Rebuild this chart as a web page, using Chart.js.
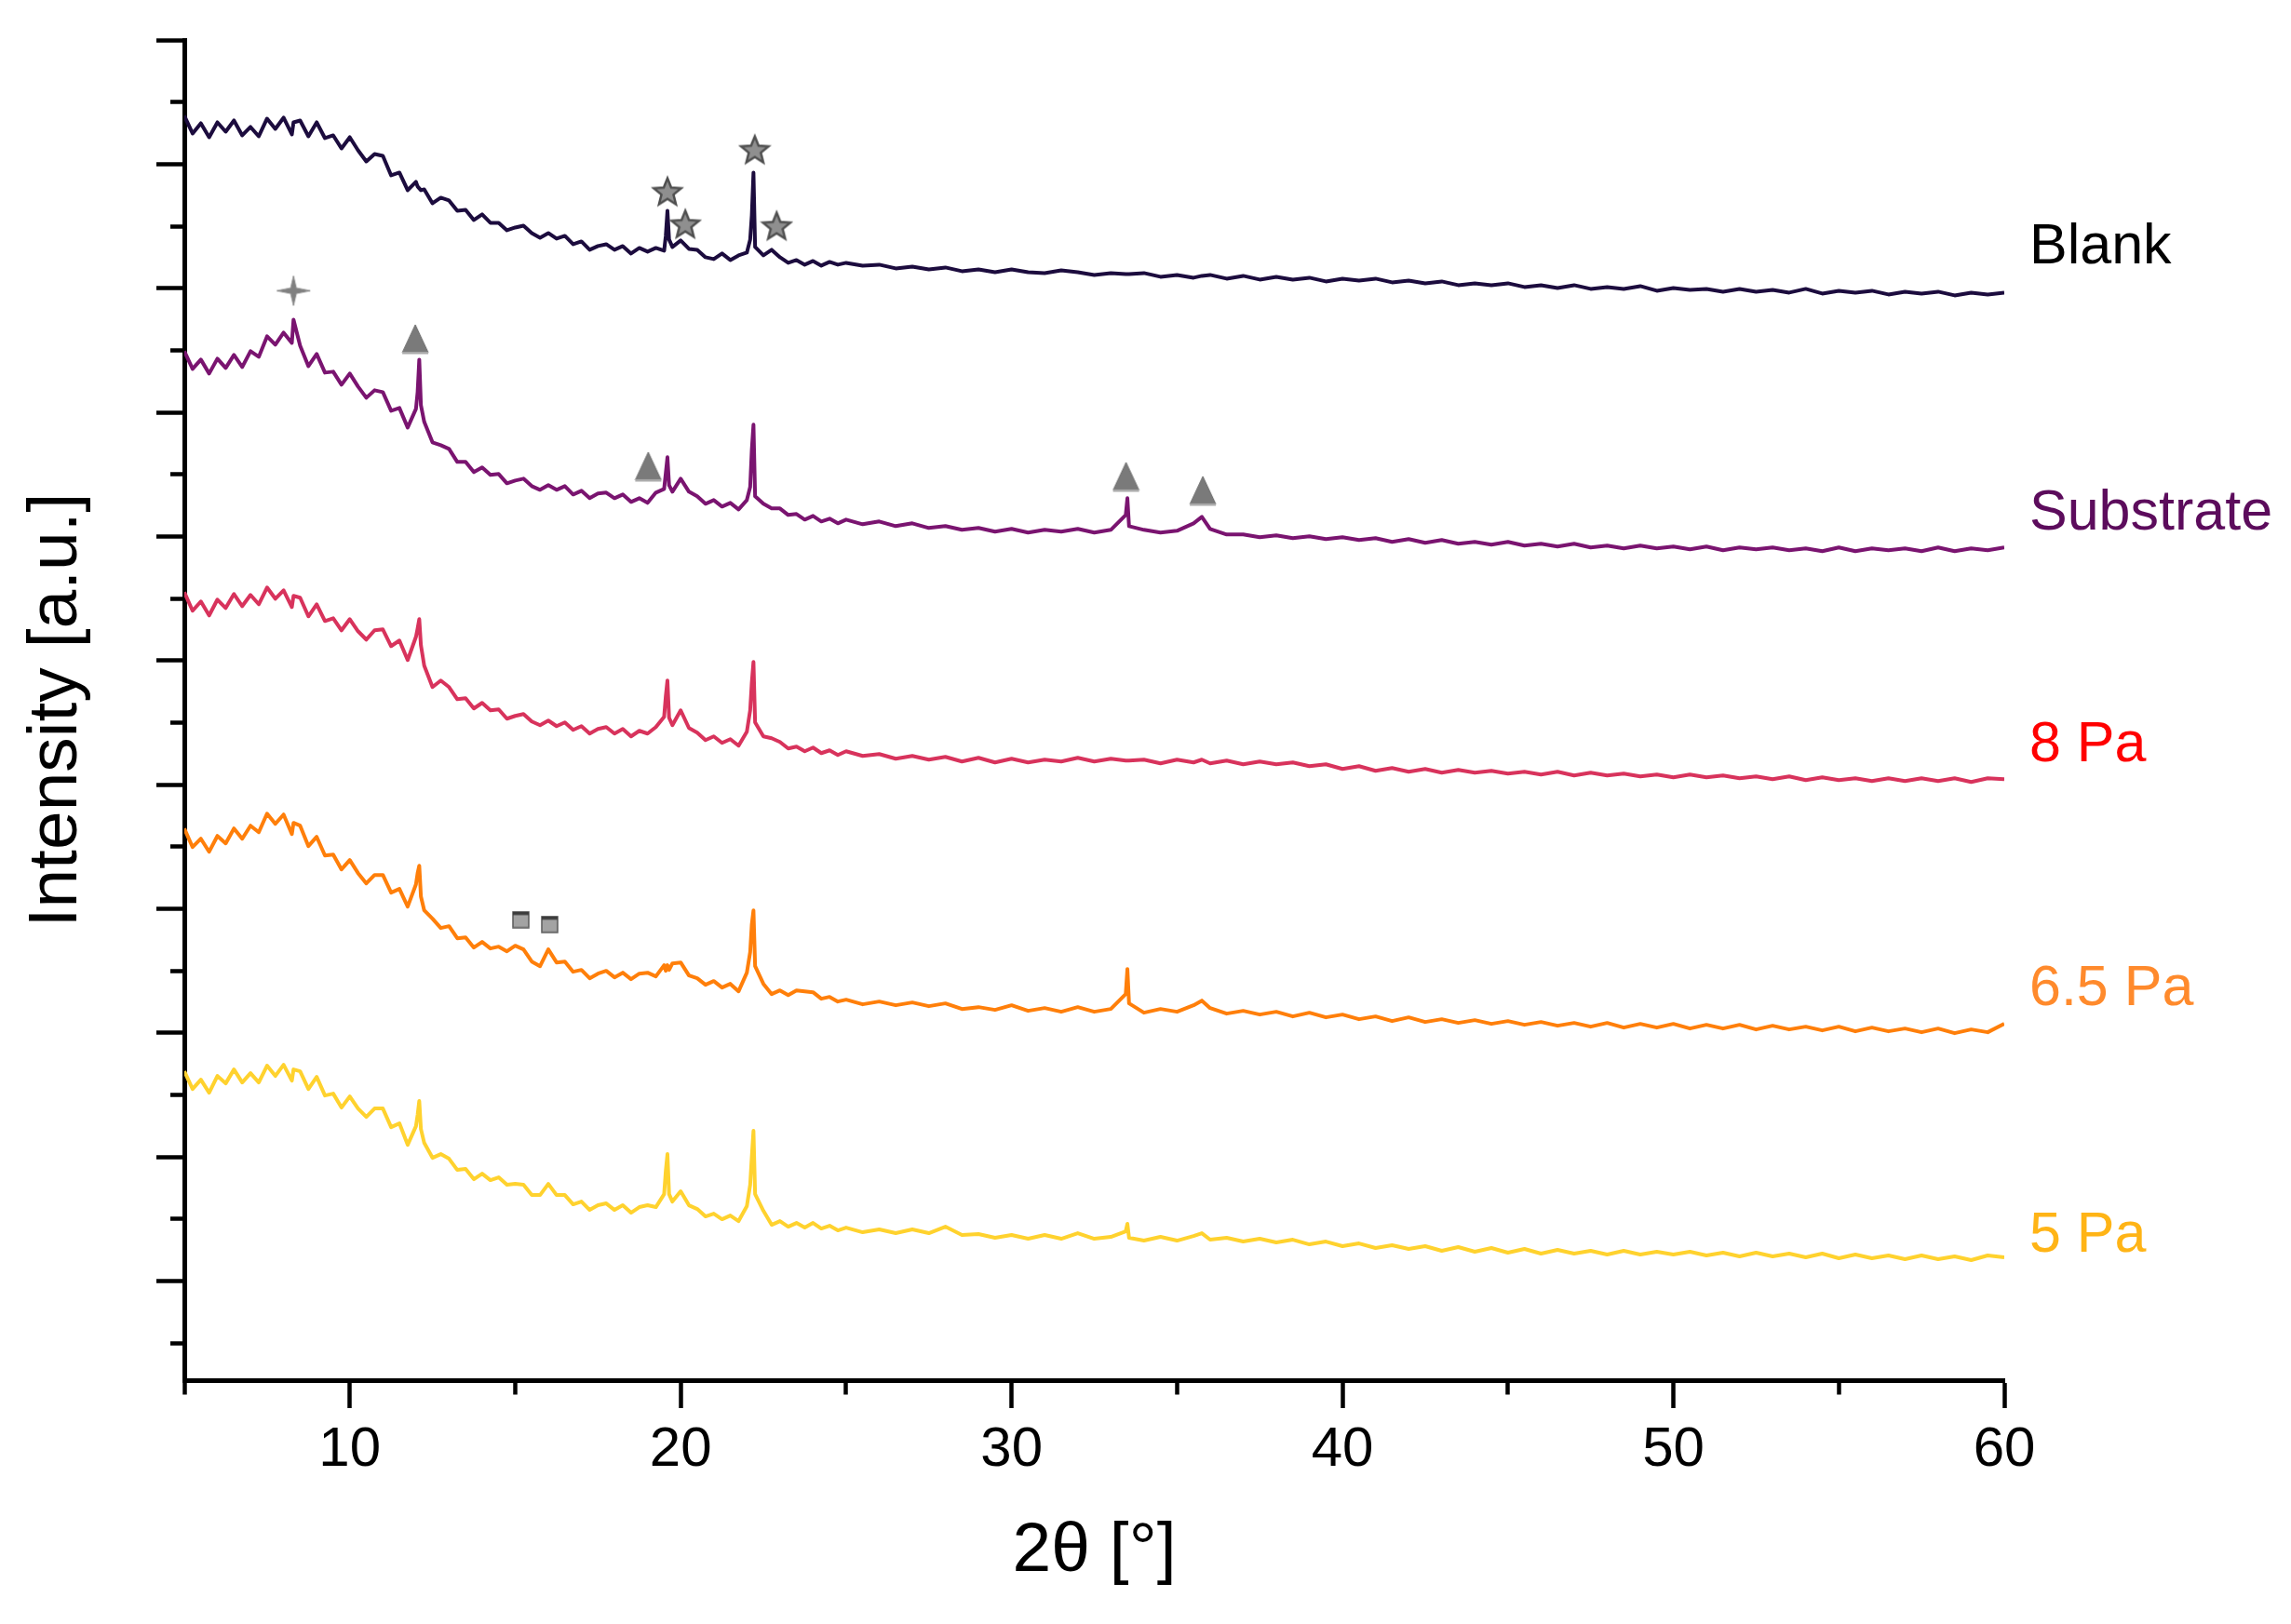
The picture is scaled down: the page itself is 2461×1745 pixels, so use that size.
<!DOCTYPE html>
<html>
<head>
<meta charset="utf-8">
<script src="https://cdn.jsdelivr.net/npm/chart.js@4.4.1/dist/chart.umd.min.js"></script>
<style>
  html, body { margin: 0; padding: 0; background: #ffffff; overflow: hidden; }
  #wrap { width: 2461px; height: 1745px; }
  canvas { display: block; }
</style>
</head>
<body>
<div id="wrap"><canvas id="c" width="2461" height="1745"></canvas></div>
<script>
// ---------------- DATA ----------------
// 2θ sampling grid (degrees)
const twoTheta = [
  5,5.25,5.5,5.75, 6,6.25,6.5,6.75, 7,7.25,7.5,7.75, 8,8.25,8.3,8.5,8.75,
  9,9.25,9.5,9.75, 10,10.25,10.5,10.75, 11,11.25,11.5,11.75,
  12,12.05,12.1,12.15,12.25,12.5,12.75,
  13,13.25,13.5,13.75, 14,14.25,14.5,14.75, 15,15.25,15.5,15.75,
  16,16.25,16.5,16.75, 17,17.25,17.5,17.75, 18,18.25,18.5,18.75,
  19,19.25,19.5,19.55,19.6,19.65,19.75,
  20,20.25,20.5,20.75, 21,21.25,21.5,21.75,
  22,22.1,22.15,22.2,22.25,22.5,22.75,
  23,23.25,23.5,23.75, 24,24.25,24.5,24.75,
  25,25.5, 26,26.5, 27,27.5, 28,28.5, 29,29.5, 30,30.5, 31,31.5, 32,32.5,
  33,33.45,33.5,33.55, 34,34.5, 35,35.5,35.75,
  36,36.5, 37,37.5, 38,38.5, 39,39.5, 40,40.5, 41,41.5, 42,42.5, 43,43.5,
  44,44.5, 45,45.5, 46,46.5, 47,47.5, 48,48.5, 49,49.5, 50,50.5, 51,51.5,
  52,52.5, 53,53.5, 54,54.5, 55,55.5, 56,56.5, 57,57.5, 58,58.5, 59,59.5,
  60
];

// Intensities (offset-stacked, arbitrary units)
const blank = [
  1359,1340,1351,1336, 1352,1342,1354,1338, 1347,1337,1356,1345, 1357,1339,1352,1354,1337,
  1352,1335,1338,1324, 1336,1322,1310,1318, 1316,1295,1298,1279,
  1288,1283,1281,1279,1280,1265,1271,
  1268,1257,1258,1247, 1253,1244,1244,1236, 1239,1241,1233,1228,
  1233,1227,1230,1221, 1224,1215,1219,1221, 1215,1219,1211,1217,
  1213,1217,1214,1230,1257,1226,1218,
  1225,1216,1215,1207, 1205,1211,1204,1209,
  1212,1226,1252,1298,1218,1209,1215,
  1207,1201,1204,1199, 1203,1198,1202,1199,
  1201,1198, 1199,1195, 1197,1194, 1196,1192, 1194,1191, 1194,1191, 1190,1193, 1191,1188,
  1190,1189,1189,1189, 1190,1186, 1188,1185,1187,
  1188,1184, 1187,1183, 1186,1183, 1185,1181, 1184,1182, 1184,1180, 1182,1179, 1181,1177,
  1179,1177, 1179,1175, 1177,1174, 1177,1173, 1175,1173, 1176,1171, 1174,1172, 1173,1170,
  1173,1170, 1172,1169, 1173,1168, 1171,1169, 1171,1167, 1170,1168, 1170,1166, 1169,1167,
  1169
];

const substrate = [
  1106,1087,1097,1082, 1098,1088,1102,1089, 1106,1100,1122,1113, 1126,1115,1140,1112,1090,
  1103,1083,1084,1070, 1082,1068,1056,1064, 1062,1042,1045,1024,
  1044,1062,1097,1048,1030,1008,1005,
  1001,987,987,976, 981,973,974,964, 967,969,961,957,
  962,957,961,952, 956,948,953,954, 948,952,944,948,
  943,954,958,975,992,962,955,
  969,955,950,942, 946,939,943,936,
  946,960,1000,1027,950,942,937,
  937,930,931,925, 929,923,926,921,
  925,920, 923,918, 921,916, 918,914, 916,912, 915,911, 914,912, 915,911,
  914,930,948,918, 914,911, 913,921,928,
  915,909, 909,906, 908,905, 907,904, 906,903, 905,901, 904,900, 903,899,
  901,898, 901,897, 899,896, 899,895, 897,894, 897,894, 896,893, 896,892,
  895,893, 895,892, 894,891, 895,891, 894,892, 894,891, 895,891, 894,892,
  895
];

const pa8 = [
  847,827,837,822, 839,830,845,832, 844,834,852,840, 849,831,843,841,821,
  834,816,819,806, 818,805,796,806, 807,789,795,774,
  799,808,818,790,768,745,752,
  745,732,733,722, 728,720,721,711, 714,716,708,704,
  709,703,707,699, 703,695,700,702, 695,700,692,698,
  695,702,713,735,752,712,704,
  720,701,696,688, 692,685,689,682,
  697,720,750,772,707,692,690,
  686,679,681,676, 680,674,677,672,
  676,671, 673,668, 671,667, 670,665, 669,664, 668,664, 667,665, 669,665,
  668,666,666,666, 667,663, 667,664,667,
  663,666, 662,665, 662,664, 660,662, 657,660, 655,658, 654,657, 653,656,
  653,655, 652,654, 651,654, 650,653, 650,652, 649,651, 648,651, 648,650,
  647,649, 646,649, 645,648, 645,647, 644,647, 644,647, 644,647, 643,647,
  646
];

const pa65 = [
  593,573,582,568, 585,577,593,582, 596,589,609,598, 608,587,599,596,574,
  584,564,565,549, 559,545,534,543, 543,524,528,509,
  533,545,553,520,505,496,486,
  488,475,476,465, 471,464,466,461, 467,463,450,445,
  463,449,450,439, 441,432,437,440, 433,438,431,437,
  438,434,446,440,446,441,448,
  449,435,432,425, 429,422,426,418,
  438,460,490,505,445,426,415,
  419,414,419,418, 417,410,412,407,
  409,404, 407,403, 406,402, 405,399, 401,398, 403,397, 400,396, 401,396,
  399,415,442,405, 395,399, 396,403,408,
  400,394, 397,393, 396,391, 395,390, 393,388, 391,386, 390,385, 388,384,
  387,383, 386,382, 385,381, 384,380, 384,379, 383,379, 383,378, 382,378,
  382,377, 381,377, 380,376, 380,375, 379,375, 378,374, 378,373, 377,374,
  383
];

const pa5 = [
  332,313,323,309, 327,319,334,320, 330,320,338,327, 339,322,334,332,313,
  326,306,308,293, 305,292,283,292, 292,272,276,253,
  273,285,300,270,255,239,243,
  238,226,227,216, 222,215,218,210, 211,210,199,199,
  211,199,199,189, 192,183,188,190, 183,188,180,186,
  188,186,200,225,243,200,192,
  203,188,184,176, 179,173,177,171,
  187,210,240,268,200,182,167,
  171,165,169,164, 169,163,166,161,
  164,159, 162,158, 162,158, 165,156, 157,153, 156,152, 156,152, 158,152,
  154,160,168,153, 150,154, 150,155,158,
  151,153, 149,152, 148,151, 146,149, 144,147, 142,145, 141,144, 139,143,
  138,142, 137,141, 136,140, 136,139, 135,139, 135,138, 135,138, 134,137,
  133,137, 133,136, 132,136, 131,135, 131,134, 130,134, 130,133, 129,134,
  132
];

// Series names, colours
const seriesNames  = ['Blank', 'Substrate', '8 Pa', '6.5 Pa', '5 Pa'];
const seriesValues = [blank, substrate, pa8, pa65, pa5];
const lineColors   = ['#1c0c3e', '#7a1470', '#d8335c', '#ff7f0a', '#ffd22e'];

// Right-hand series labels (position on the intensity scale)
const labelNames  = ['5 Pa', '6.5 Pa', '8 Pa', 'Substrate', 'Blank'];
const labelValues = [155, 420, 682, 931, 1217];
const labelColors = ['#ffb416', '#ff8a2c', '#ff0000', '#5c0c5c', '#000000'];

// Phase markers
const starTheta   = [19.6, 20.14, 22.24, 22.9];
const starValue   = [1278, 1243, 1323, 1241];
const crossTheta  = [8.3];
const crossValue  = [1171];
const triTheta    = [11.98, 19.02, 33.46, 35.78];
const triValue    = [1119, 982, 971, 956];
const squareTheta = [15.17, 16.04];
const squareValue = [495, 490];

// Axis ticks
const xTickStep = 5;
const xMin = 5, xMax = 60;
const yMin = 0, yMax = 1440.5;
const yTicks = [1440.5, 1373.8, 1307.1, 1240.4, 1173.7, 1107.0, 1040.3, 973.6, 906.9, 840.2,
                773.5, 706.8, 640.1, 573.4, 506.7, 440.0, 373.3, 306.6, 239.9, 173.2, 106.5, 39.8];

// ---------------- MARKER GLYPHS ----------------
function makeCanvas(w, h) { const c = document.createElement('canvas'); c.width = w; c.height = h; return c; }
function makeStar() {
  const c = makeCanvas(36, 36), g = c.getContext('2d');
  g.beginPath();
  for (let k = 0; k < 10; k++) {
    const r = k % 2 ? 6.8 : 15.5;
    const a = -Math.PI / 2 + k * Math.PI / 5;
    const px = 18 + r * Math.cos(a), py = 19.5 + r * Math.sin(a);
    if (k) g.lineTo(px, py); else g.moveTo(px, py);
  }
  g.closePath();
  g.fillStyle = '#8f8f8f'; g.fill();
  g.lineWidth = 2.5; g.strokeStyle = '#4f4f4f'; g.stroke();
  return c;
}
function makeSparkle() {
  const c = makeCanvas(38, 34), g = c.getContext('2d');
  const cx = 19, cy = 17;
  const pts = [[0,-16],[3,-3],[18,0],[3,3],[0,16],[-3,3],[-18,0],[-3,-3]];
  g.beginPath();
  pts.forEach((p, i) => { if (i) g.lineTo(cx + p[0], cy + p[1]); else g.moveTo(cx + p[0], cy + p[1]); });
  g.closePath();
  g.fillStyle = '#808080'; g.fill();
  g.lineWidth = 1; g.strokeStyle = '#8c8c8c'; g.stroke();
  return c;
}
function makeTriangle() {
  const c = makeCanvas(30, 33), g = c.getContext('2d');
  g.beginPath(); g.moveTo(15, 1); g.lineTo(29, 31); g.lineTo(1, 31); g.closePath();
  g.fillStyle = '#7a7a7a'; g.fill();
  g.lineWidth = 1; g.strokeStyle = '#6e6e6e'; g.stroke();
  g.fillStyle = '#a8a8a8'; g.fillRect(1, 30, 28, 2.5);
  return c;
}
function makeSquare() {
  const c = makeCanvas(19, 19), g = c.getContext('2d');
  g.fillStyle = '#a3a3a3'; g.fillRect(1, 1, 17, 17);
  g.lineWidth = 1.5; g.strokeStyle = '#5a5a5a'; g.strokeRect(1, 1, 17, 17);
  g.fillStyle = '#3c3c3c'; g.fillRect(1, 1, 17, 3.5);
  return c;
}

// ---------------- CHART ----------------
const FONT = "'Liberation Sans', Arial, Helvetica, sans-serif";
const pairs = (xs, ys) => xs.map((x, i) => ({ x: x, y: ys[i] }));

const markerSets = [
  { data: pairs(starTheta, starValue), pointStyle: makeStar() },
  { data: pairs(crossTheta, crossValue), pointStyle: makeSparkle() },
  { data: pairs(triTheta, triValue), pointStyle: makeTriangle() },
  { data: pairs(squareTheta, squareValue), pointStyle: makeSquare() }
].map(m => ({
  type: 'line', data: m.data, showLine: false, order: 0,
  pointStyle: m.pointStyle, pointRadius: 12, pointHoverRadius: 12,
  borderColor: '#808080', backgroundColor: '#808080'
}));

const lineSets = seriesValues.map((vals, i) => ({
  type: 'line', label: seriesNames[i], data: pairs(twoTheta, vals), order: 1,
  borderColor: lineColors[i], borderWidth: 4, pointRadius: 0, tension: 0, fill: false,
  borderJoinStyle: 'round'
}));

new Chart(document.getElementById('c'), {
  type: 'line',
  data: { datasets: [...markerSets, ...lineSets] },
  options: {
    responsive: false, animation: false, devicePixelRatio: 1,
    layout: { padding: { top: 43, left: 0, right: 0, bottom: 0 } },
    plugins: { legend: { display: false }, tooltip: { enabled: false } },
    scales: {
      x: {
        type: 'linear', position: 'bottom', min: xMin, max: xMax,
        border: { display: true, color: '#000', width: 5 },
        grid: {
          drawOnChartArea: false, drawTicks: true, tickLength: 30, tickWidth: 4.5, tickColor: '#000',
          tickBorderDash: ctx => (ctx.tick && ctx.tick.value % 10 !== 0) ? [12.5, 100] : []
        },
        ticks: {
          stepSize: xTickStep, autoSkip: false, maxRotation: 0, padding: 9, color: '#000',
          font: { family: FONT, size: 60 },
          callback: v => (v % 10 === 0 ? String(v) : '')
        },
        title: { display: true, text: '2θ [°]', color: '#000', font: { family: FONT, size: 75 }, padding: { top: 0, bottom: 33 } },
        afterFit: s => { s.height = 262; s.paddingLeft = 0; s.paddingRight = 0; }
      },
      y: {
        type: 'linear', position: 'left', min: yMin, max: yMax,
        afterBuildTicks: s => { s.ticks = yTicks.map(v => ({ value: v })); },
        border: { display: true, color: '#000', width: 5 },
        grid: {
          drawOnChartArea: false, drawTicks: true, tickLength: 30, tickWidth: 4.5, tickColor: '#000',
          tickBorderDash: ctx => (ctx.index % 2 === 1) ? [0, 15, 13, 100] : []
        },
        ticks: { autoSkip: false, padding: 0, font: { family: FONT, size: 8 }, callback: () => '' },
        title: { display: true, text: 'Intensity [a.u.]', color: '#000', font: { family: FONT, size: 75 }, padding: { top: 16, bottom: 0 } },
        afterFit: s => { s.width = 198; s.paddingTop = 0; s.paddingBottom = 0; }
      },
      y2: {
        type: 'linear', position: 'right', min: yMin, max: yMax,
        afterBuildTicks: s => { s.ticks = labelValues.map(v => ({ value: v })); },
        border: { display: false },
        grid: { display: false, drawOnChartArea: false, drawTicks: false },
        ticks: {
          autoSkip: false, padding: 27, font: { family: FONT, size: 61 },
          color: ctx => labelColors[ctx.index],
          callback: (v, i) => labelNames[i]
        },
        afterFit: s => { s.width = 308; s.paddingTop = 0; s.paddingBottom = 0; }
      }
    }
  }
});
</script>
</body>
</html>
